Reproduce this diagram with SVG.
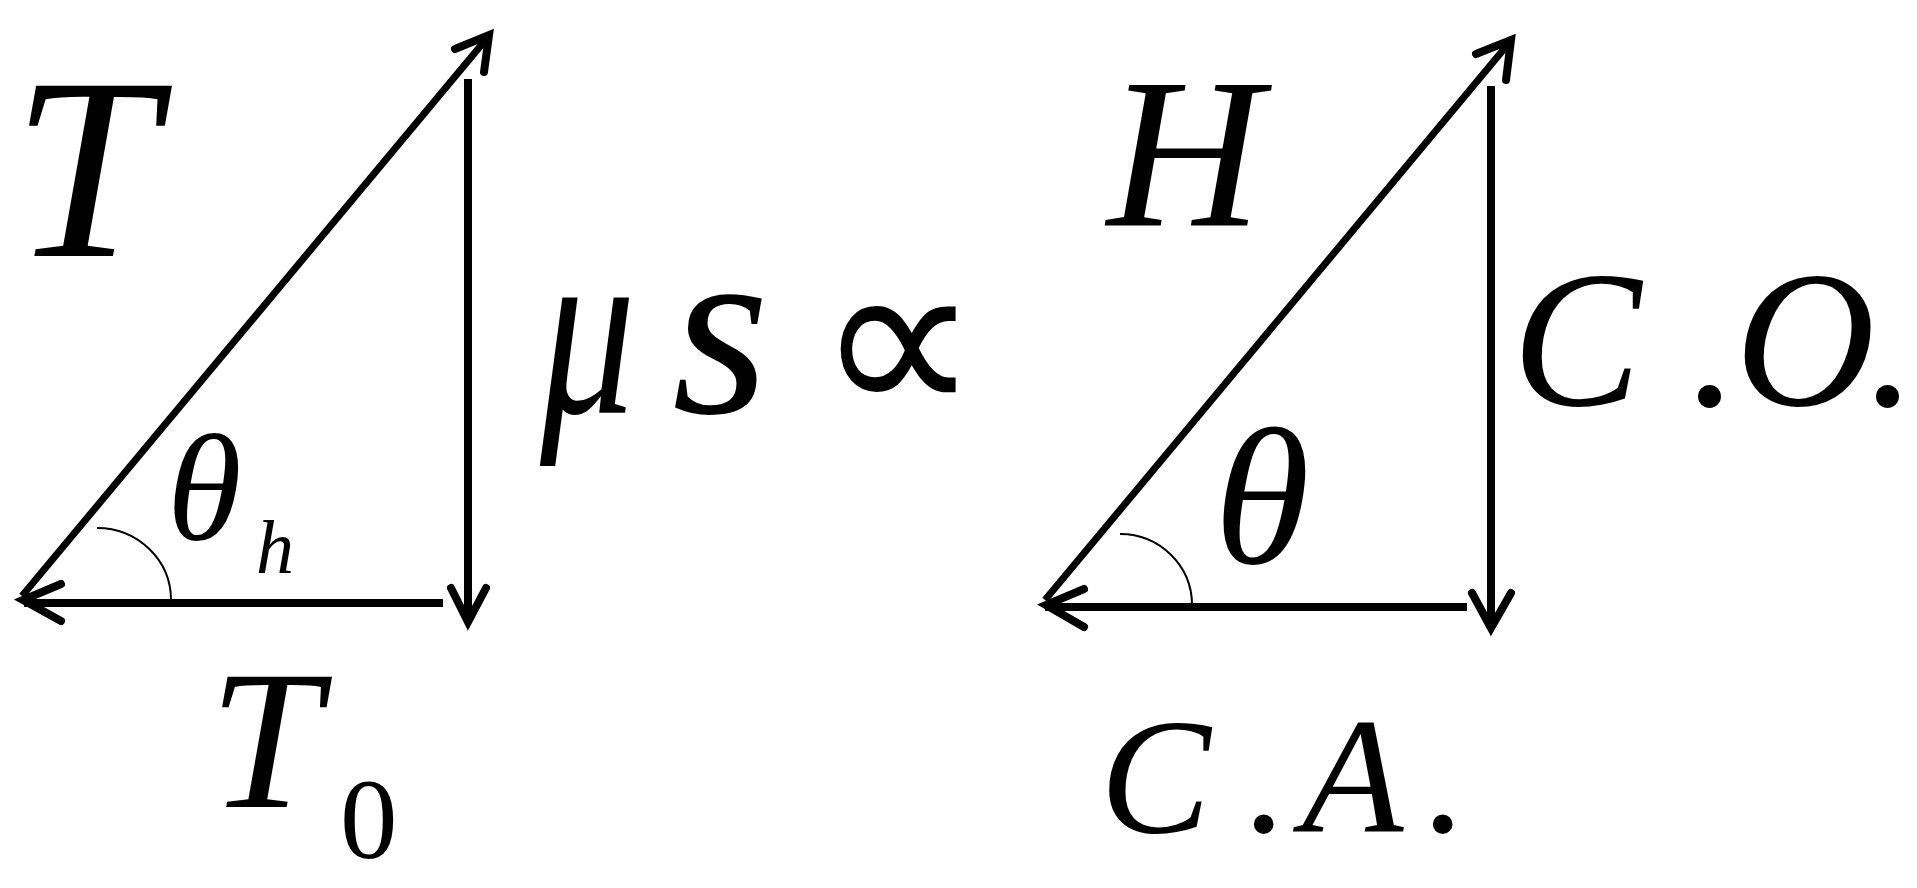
<svg xmlns="http://www.w3.org/2000/svg" width="1917" height="888" viewBox="0 0 1917 888">
<style>
.ln{fill:none;stroke:#000;stroke-width:8;stroke-linecap:butt}
.dg{fill:none;stroke:#000;stroke-width:7;stroke-linecap:butt}
.ah{fill:none;stroke:#000;stroke-width:8;stroke-linecap:round;stroke-linejoin:miter;stroke-miterlimit:10}
.arc{fill:none;stroke:#000;stroke-width:2}
.t{font-family:"Liberation Serif","Times New Roman",serif;font-style:italic;fill:#000}
.u{font-family:"Liberation Serif","Times New Roman",serif;fill:#000}
</style>
<rect width="1917" height="888" fill="#fff"/>
<g id="connectors">
<path class="dg" d="M22,596 L488,37"/>
<path class="ah" d="M455,49 L489,35 L484,72"/>
<path class="ln" d="M24,603 L443,603" stroke-width="9"/>
<path class="ah" d="M61,584 L23,600 L61,621"/>
<path class="ln" d="M468,79 L468,620"/>
<path class="ah" d="M451,588 L468,622 L486,588"/>
<path class="arc" d="M97,528 A74,72 0 0 1 171,600"/>
<path class="dg" d="M1045,600 L1509,43"/>
<path class="ah" d="M1476,54 L1511,40 L1506,80"/>
<path class="ln" d="M1045,607 L1467,607" stroke-width="9"/>
<path class="ah" d="M1084,589 L1046,605 L1084,627"/>
<path class="ln" d="M1491,86 L1491,626"/>
<path class="ah" d="M1472,593 L1491,628 L1511,593"/>
<path class="arc" d="M1120,534 A72,71 0 0 1 1192,605"/>
</g>
<g id="label-T"><text class="t" x="12" y="256" font-size="260">T</text></g>
<g id="label-theta-h"><text class="t" x="167" y="540" font-size="152">θ</text><text class="t" x="256" y="573" font-size="76">h</text></g>
<g id="label-T0"><text class="t" x="209" y="807" font-size="200">T</text><text class="u" x="340" y="858" font-size="115">0</text></g>
<g id="label-mus"><text class="t" transform="translate(540,413) scale(0.76,1)" x="0" y="0" font-size="250">μ</text><text class="t" x="672" y="413" font-size="250">s</text><text class="u" x="816" y="418" font-size="230">∝</text></g>
<g id="label-H"><text class="t" x="1107" y="226" font-size="215">H</text></g>
<g id="label-theta"><text class="t" x="1214" y="563" font-size="195">θ</text></g>
<g id="label-CO"><text class="t" y="405" font-size="194"><tspan x="1512">C</tspan><tspan x="1690">.</tspan><tspan x="1735">O</tspan><tspan x="1868">.</tspan></text></g>
<g id="label-CA"><text class="t" y="832" font-size="166"><tspan x="1100">C</tspan><tspan x="1247">.</tspan><tspan x="1302">A</tspan><tspan x="1426">.</tspan></text></g>
</svg>
